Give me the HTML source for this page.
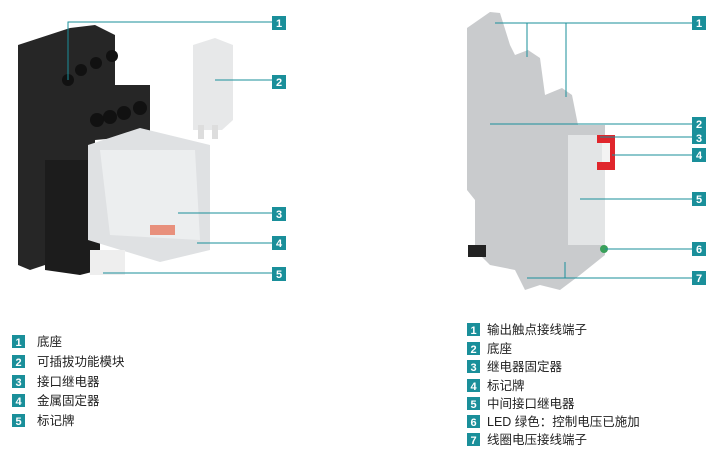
<!DOCTYPE html>
<html><head><meta charset="utf-8"><style>
html,body{margin:0;padding:0;background:#fff;width:721px;height:465px;overflow:hidden}
svg{display:block}
text{font-family:"Liberation Sans","Noto Sans CJK SC",sans-serif}
.n{fill:#fff;font-weight:bold;font-size:11px}
.l{fill:#222;font-size:12.5px}
</style></head><body>
<svg width="721" height="465" viewBox="0 0 721 465">
<path d="M18,45 L70,28 L95,25 L115,35 L115,85 L150,85 L150,135 L95,140 L95,165 L45,165 L45,225 L45,265 L30,270 L18,265 Z" fill="#262626"/>
<path d="M45,160 L100,160 L100,270 L80,275 L45,270 Z" fill="#1c1c1c"/>
<g fill="#111"><circle cx="68" cy="80" r="6"/><circle cx="81" cy="70" r="6"/><circle cx="96" cy="63" r="6"/><circle cx="112" cy="56" r="6"/>
<circle cx="97" cy="120" r="7"/><circle cx="110" cy="117" r="7"/><circle cx="124" cy="113" r="7"/><circle cx="140" cy="108" r="7"/></g>
<path d="M88,145 L140,128 L210,145 L210,250 L160,262 L88,240 Z" fill="#dfe1e3"/>
<path d="M100,150 L195,150 L200,240 L110,235 Z" fill="#eceeef"/>
<rect x="150" y="225" width="25" height="10" fill="#e8907c"/>
<rect x="90" y="250" width="35" height="25" fill="#eee"/>
<path d="M193,45 L215,38 L233,45 L233,120 L222,130 L193,130 Z" fill="#e7e8e9"/>
<rect x="198" y="125" width="6" height="14" fill="#ddd"/><rect x="212" y="125" width="6" height="14" fill="#ddd"/>
<path d="M467,28 L490,12 L500,13 L510,45 L515,55 L528,50 L540,58 L545,95 L562,88 L572,95 L578,125 L605,125 L605,255 L580,275 L560,290 L540,285 L525,290 L515,270 L490,265 L475,250 L475,200 L467,190 Z" fill="#c9cbcd"/>
<rect x="568" y="135" width="37" height="110" fill="#e3e5e6"/>
<path d="M597,135 L615,135 L615,170 L597,170 L597,162 L610,162 L610,143 L597,143 Z" fill="#e0262c"/>
<rect x="602" y="143" width="8" height="19" fill="#f3f3f3"/>
<circle cx="604" cy="249" r="4" fill="#3aa05a"/>
<rect x="468" y="245" width="18" height="12" fill="#222"/>
<g stroke="#1a8f9a" stroke-width="1" fill="none">
<path d="M68,80 V22 H272"/><path d="M215,80 H272"/><path d="M178,213 H272"/><path d="M197,243 H272"/><path d="M103,273 H272"/>
<path d="M495,23 H692 M527,23 V57 M566,23 V97"/><path d="M490,124 H692"/><path d="M600,137 H692"/><path d="M612,155 H692"/><path d="M580,199 H692"/><path d="M605,249 H692"/><path d="M527,278 H692 M565,262 V278"/>
</g>
<g fill="#1a8f9a">
<rect x="272" y="16" width="14" height="14"/><rect x="272" y="75" width="14" height="14"/><rect x="272" y="207" width="14" height="14"/><rect x="272" y="236" width="14" height="14"/><rect x="272" y="267" width="14" height="14"/>
<rect x="692" y="16" width="14" height="14"/><rect x="692" y="117" width="14" height="14"/><rect x="692" y="131" width="14" height="13"/><rect x="692" y="148" width="14" height="14"/><rect x="692" y="192" width="14" height="14"/><rect x="692" y="242" width="14" height="14"/><rect x="692" y="271" width="14" height="14"/>
<rect x="12" y="335" width="13" height="13"/><rect x="12" y="355" width="13" height="13"/><rect x="12" y="375" width="13" height="13"/><rect x="12" y="394" width="13" height="13"/><rect x="12" y="414" width="13" height="13"/>
<rect x="467" y="323" width="13" height="13"/><rect x="467" y="342" width="13" height="13"/><rect x="467" y="360" width="13" height="13"/><rect x="467" y="379" width="13" height="13"/><rect x="467" y="397" width="13" height="13"/><rect x="467" y="415" width="13" height="13"/><rect x="467" y="433" width="13" height="13"/>
</g>
<g class="n" text-anchor="middle">
<text x="279" y="27">1</text><text x="279" y="86">2</text><text x="279" y="218">3</text><text x="279" y="247">4</text><text x="279" y="278">5</text>
<text x="699" y="27">1</text><text x="699" y="128">2</text><text x="699" y="142">3</text><text x="699" y="159">4</text><text x="699" y="203">5</text><text x="699" y="253">6</text><text x="699" y="282">7</text>
<text x="18.5" y="346">1</text><text x="18.5" y="366">2</text><text x="18.5" y="386">3</text><text x="18.5" y="405">4</text><text x="18.5" y="425">5</text>
<text x="473.5" y="334">1</text><text x="473.5" y="353">2</text><text x="473.5" y="371">3</text><text x="473.5" y="390">4</text><text x="473.5" y="408">5</text><text x="473.5" y="426">6</text><text x="473.5" y="444">7</text>
</g>
<g class="l">
<text x="37" y="346">底座</text><text x="37" y="366">可插拔功能模块</text><text x="37" y="386">接口继电器</text><text x="37" y="405">金属固定器</text><text x="37" y="425">标记牌</text>
<text x="487" y="334">输出触点接线端子</text><text x="487" y="353">底座</text><text x="487" y="371">继电器固定器</text><text x="487" y="390">标记牌</text><text x="487" y="408">中间接口继电器</text><text x="487" y="426">LED 绿色：控制电压已施加</text><text x="487" y="444">线圈电压接线端子</text>
</g>
</svg>
</body></html>
